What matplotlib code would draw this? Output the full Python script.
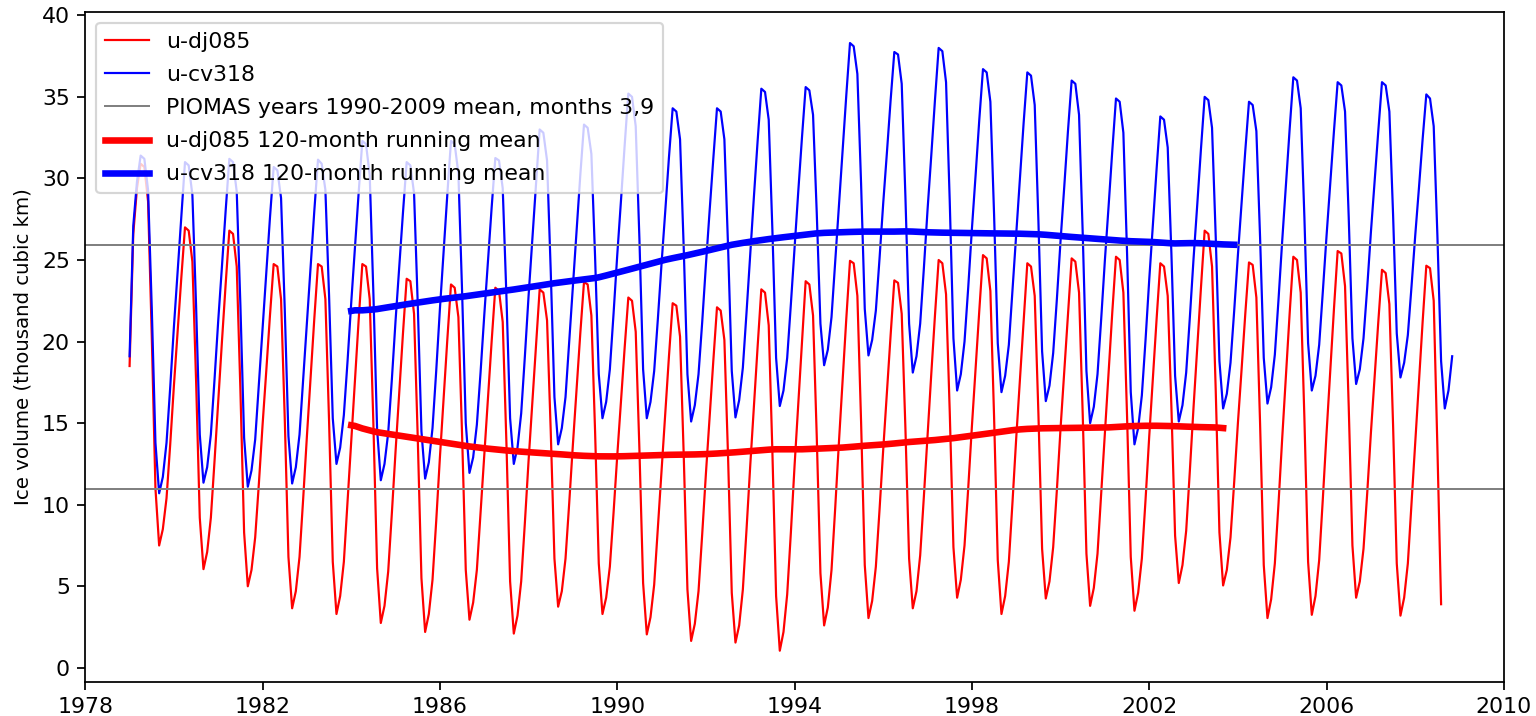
import numpy as np
import matplotlib
matplotlib.use("Agg")
import matplotlib.pyplot as plt

# ---------------- data (thousand cubic km), monthly, starting Jan 1979 ----------------
start_year = 1979
window = 120
piomas_levels = [25.9, 10.95]          # PIOMAS 1990-2009 mean, months 3 and 9
x_ticks = [1978, 1982, 1986, 1990, 1994, 1998, 2002, 2006, 2010]

# u-cv318 (blue), one row per year, Jan..Dec (last row ends Nov 2008)
cv318_rows = [
    [19.1, 27.1, 29.8, 31.4, 31.2, 29.3, 22.1, 13.8, 10.7, 11.7, 13.8, 17.2],
    [20.9, 24.3, 27.8, 31.0, 30.8, 29.0, 22.2, 14.3, 11.35, 12.3, 14.3, 17.7],
    [21.3, 24.6, 28.0, 31.2, 31.0, 29.2, 22.2, 14.1, 11.1, 12.1, 14.0, 17.4],
    [20.9, 24.2, 27.6, 30.7, 30.5, 28.8, 22.0, 14.2, 11.3, 12.3, 14.3, 17.7],
    [21.2, 24.6, 28.0, 31.15, 30.9, 29.3, 22.8, 15.3, 12.5, 13.5, 15.5, 18.8],
    [22.4, 25.8, 29.1, 32.3, 32.1, 30.2, 22.9, 14.6, 11.5, 12.5, 14.4, 17.7],
    [21.3, 24.6, 27.9, 31.0, 30.8, 29.1, 22.3, 14.5, 11.6, 12.6, 14.7, 18.2],
    [22.0, 25.5, 29.0, 32.3, 32.1, 30.3, 23.1, 15.0, 11.95, 12.9, 14.9, 18.1],
    [21.6, 24.9, 28.2, 31.25, 31.1, 29.4, 22.8, 15.3, 12.5, 13.5, 15.6, 19.1],
    [22.8, 26.2, 29.7, 33.0, 32.8, 31.1, 24.3, 16.6, 13.7, 14.7, 16.6, 20.0],
    [23.5, 26.8, 30.2, 33.3, 33.1, 31.5, 25.2, 18.0, 15.3, 16.3, 18.3, 21.7],
    [25.3, 28.6, 32.0, 35.2, 35.0, 33.2, 26.3, 18.3, 15.3, 16.3, 18.2, 21.4],
    [24.8, 28.0, 31.3, 34.3, 34.1, 32.4, 25.7, 18.0, 15.1, 16.1, 18.0, 21.2],
    [24.7, 28.0, 31.2, 34.3, 34.1, 32.4, 25.8, 18.2, 15.35, 16.4, 18.4, 21.8],
    [25.4, 28.9, 32.3, 35.5, 35.3, 33.6, 26.8, 19.0, 16.05, 17.0, 19.0, 22.3],
    [25.8, 29.2, 32.5, 35.6, 35.4, 33.9, 27.9, 21.1, 18.55, 19.5, 21.5, 24.9],
    [28.4, 31.8, 35.1, 38.3, 38.1, 36.4, 29.7, 22.0, 19.15, 20.1, 21.9, 25.1],
    [28.5, 31.6, 34.8, 37.75, 37.6, 35.8, 28.9, 21.1, 18.1, 19.1, 21.1, 24.5],
    [28.1, 31.4, 34.8, 38.0, 37.8, 35.9, 28.6, 20.2, 17.0, 18.0, 20.0, 23.3],
    [26.9, 30.2, 33.6, 36.7, 36.5, 34.7, 27.8, 19.9, 16.9, 17.9, 19.8, 23.2],
    [26.7, 30.0, 33.4, 36.5, 36.3, 34.5, 27.4, 19.4, 16.35, 17.3, 19.3, 22.6],
    [26.2, 29.5, 32.9, 36.0, 35.8, 33.9, 26.6, 18.2, 15.0, 16.0, 18.0, 21.4],
    [25.0, 28.3, 31.7, 34.9, 34.7, 32.8, 25.4, 16.9, 13.7, 14.7, 16.7, 20.1],
    [23.8, 27.2, 30.6, 33.8, 33.6, 31.9, 25.4, 17.9, 15.1, 16.1, 18.1, 21.5],
    [25.1, 28.4, 31.8, 35.0, 34.8, 33.1, 26.4, 18.8, 15.9, 16.8, 18.7, 21.9],
    [25.3, 28.5, 31.7, 34.7, 34.5, 32.9, 26.4, 19.0, 16.2, 17.2, 19.2, 22.6],
    [26.2, 29.6, 33.0, 36.2, 36.0, 34.3, 27.6, 19.9, 17.0, 17.9, 19.8, 23.1],
    [26.5, 29.7, 32.9, 35.9, 35.7, 34.1, 27.6, 20.2, 17.4, 18.3, 20.2, 23.3],
    [26.7, 29.8, 32.9, 35.9, 35.7, 34.1, 27.8, 20.5, 17.8, 18.7, 20.4, 23.4],
    [26.5, 29.4, 32.4, 35.15, 34.9, 33.2, 26.5, 18.8, 15.9, 17.0, 19.1],
]

# u-dj085 (red), one row per year, Jan..Dec (last row ends Aug 2008)
dj085_rows = [
    [18.5, 26.6, 29.4, 30.9, 30.7, 28.6, 20.4, 11.0, 7.5, 8.5, 10.4, 13.7],
    [17.3, 20.6, 23.9, 27.0, 26.8, 24.9, 17.6, 9.2, 6.05, 7.1, 9.2, 12.7],
    [16.4, 20.0, 23.5, 26.8, 26.6, 24.6, 17.0, 8.3, 5.0, 6.0, 8.0, 11.3],
    [14.9, 18.2, 21.6, 24.75, 24.6, 22.6, 15.3, 6.8, 3.65, 4.7, 6.8, 10.4],
    [14.2, 17.8, 21.4, 24.75, 24.6, 22.6, 15.1, 6.5, 3.3, 4.4, 6.5, 10.2],
    [14.0, 17.7, 21.3, 24.75, 24.6, 22.6, 14.9, 6.1, 2.75, 3.8, 5.9, 9.5],
    [13.3, 16.9, 20.5, 23.85, 23.7, 21.7, 14.1, 5.5, 2.2, 3.3, 5.4, 9.0],
    [12.9, 16.5, 20.1, 23.5, 23.3, 21.5, 14.3, 6.0, 2.95, 4.0, 6.0, 9.5],
    [13.1, 16.6, 20.0, 23.3, 23.1, 21.2, 13.8, 5.3, 2.1, 3.2, 5.3, 8.9],
    [12.7, 16.2, 19.8, 23.2, 23.0, 21.3, 14.5, 6.7, 3.75, 4.7, 6.7, 10.1],
    [13.7, 17.1, 20.5, 23.65, 23.5, 21.6, 14.5, 6.4, 3.3, 4.3, 6.2, 9.5],
    [13.0, 16.3, 19.6, 22.7, 22.5, 20.6, 13.4, 5.2, 2.05, 3.1, 5.1, 8.6],
    [12.2, 15.7, 19.1, 22.35, 22.2, 20.3, 13.0, 4.8, 1.65, 2.7, 4.7, 8.2],
    [11.9, 15.4, 18.8, 22.1, 21.9, 20.1, 12.9, 4.6, 1.55, 2.6, 4.8, 8.5],
    [12.4, 16.1, 19.7, 23.2, 23.0, 21.0, 13.2, 4.4, 1.05, 2.2, 4.5, 8.3],
    [12.4, 16.2, 20.1, 23.7, 23.5, 21.6, 14.2, 5.8, 2.6, 3.7, 6.0, 9.8],
    [13.8, 17.6, 21.4, 24.95, 24.8, 22.8, 15.1, 6.3, 3.05, 4.1, 6.2, 9.7],
    [13.4, 16.9, 20.4, 23.75, 23.6, 21.7, 14.7, 6.7, 3.65, 4.7, 6.9, 10.5],
    [14.3, 18.0, 21.6, 25.0, 24.8, 22.9, 15.7, 7.4, 4.3, 5.4, 7.5, 11.0],
    [14.8, 18.4, 21.9, 25.3, 25.1, 23.1, 15.4, 6.6, 3.3, 4.4, 6.5, 10.2],
    [14.1, 17.7, 21.4, 24.8, 24.6, 22.8, 15.6, 7.3, 4.25, 5.3, 7.4, 10.9],
    [14.7, 18.2, 21.8, 25.1, 24.9, 23.0, 15.5, 7.0, 3.8, 4.9, 7.0, 10.7],
    [14.5, 18.1, 21.8, 25.2, 25.0, 23.0, 15.4, 6.8, 3.5, 4.6, 6.7, 10.3],
    [14.2, 17.8, 21.4, 24.8, 24.6, 22.8, 16.0, 8.1, 5.2, 6.3, 8.4, 12.1],
    [16.0, 19.7, 23.3, 26.8, 26.6, 24.6, 17.0, 8.3, 5.05, 6.0, 8.0, 11.4],
    [15.0, 18.3, 21.7, 24.85, 24.7, 22.7, 15.0, 6.3, 3.05, 4.2, 6.4, 10.1],
    [14.1, 17.9, 21.7, 25.2, 25.0, 23.0, 15.3, 6.5, 3.25, 4.4, 6.6, 10.4],
    [14.4, 18.2, 22.0, 25.55, 25.4, 23.4, 16.0, 7.5, 4.3, 5.3, 7.3, 10.7],
    [14.4, 17.8, 21.2, 24.4, 24.2, 22.3, 14.9, 6.4, 3.2, 4.3, 6.4, 10.1],
    [13.9, 17.6, 21.2, 24.65, 24.5, 22.5, 13.5, 3.9],
]

# ---------------- build series ----------------
cv318 = np.array([v for row in cv318_rows for v in row])
dj085 = np.array([v for row in dj085_rows for v in row])
t_cv = start_year + np.arange(len(cv318)) / 12.0
t_dj = start_year + np.arange(len(dj085)) / 12.0

def running_mean(values, times, n):
    rm = np.convolve(values, np.ones(n) / n, mode="valid")
    half = n // 2
    return times[half:half + len(rm)], rm

t_cv_rm, cv_rm = running_mean(cv318, t_cv, window)
t_dj_rm, dj_rm = running_mean(dj085, t_dj, window)

# ---------------- plot ----------------
DPI = 158
fig = plt.figure(figsize=(1536 / DPI, 716 / DPI), dpi=DPI)
ax = fig.add_axes([0.0555, 0.0479, 0.9236, 0.9353])

ax.plot(t_dj, dj085, color="red", lw=1.0, label="u-dj085")
ax.plot(t_cv, cv318, color="blue", lw=1.0, label="u-cv318")
for i, lev in enumerate(piomas_levels):
    ax.axhline(lev, color="grey", lw=0.9,
               label="PIOMAS years 1990-2009 mean, months 3,9" if i == 0 else None)
ax.plot(t_dj_rm, dj_rm, color="red", lw=3.0, label="u-dj085 120-month running mean")
ax.plot(t_cv_rm, cv_rm, color="blue", lw=3.0, label="u-cv318 120-month running mean")

ax.set_xlim(1978, 2010)
ax.set_ylim(-0.85, 40.2)
ax.set_xticks(x_ticks)
ax.set_xticklabels([str(x) for x in x_ticks])
ax.set_yticks(np.arange(0, 41, 5))
ax.set_ylabel("Ice volume (thousand cubic km)", fontsize=9)
ax.legend(loc="upper left", fontsize=10, labelspacing=0.6)

fig.savefig("out.png", dpi=DPI)
